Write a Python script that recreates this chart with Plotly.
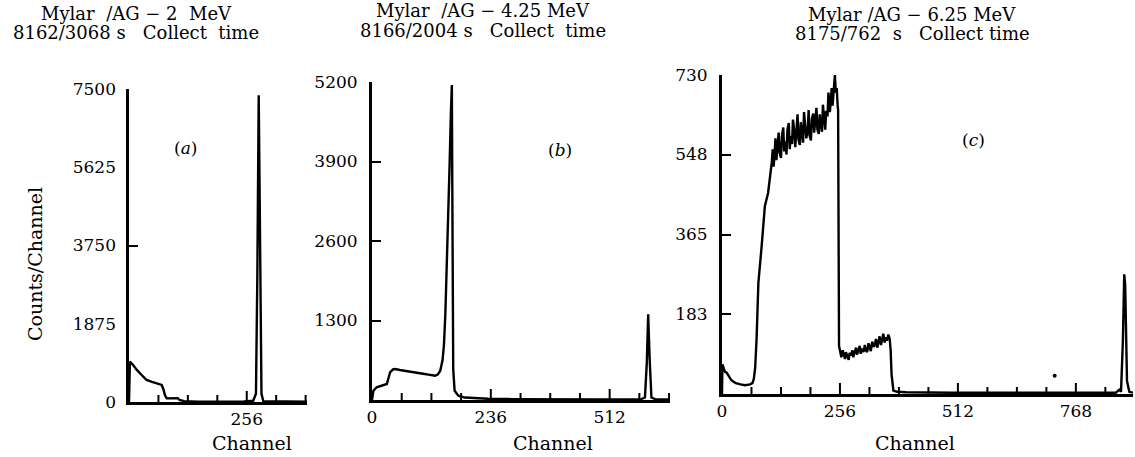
import plotly.graph_objects as go

W, H = 1135, 457

# ---------------- data ----------------
# Panel (a): Mylar/AG - 2 MeV
ch_a = [0, 1, 2, 8, 17, 28, 38, 50, 60, 71, 75, 78, 82, 95, 106, 110, 120, 150, 200, 250,
        270, 276, 279, 281, 282, 284, 286, 288, 292, 330, 387]
cnt_a = [0, 700, 969, 900, 769, 640, 529, 480, 449, 409, 300, 168, 88, 90, 90, 48, 20, 10, 8, 12,
         30, 200, 3000, 6500, 7350, 5000, 1500, 200, 20, 10, 10]

# Panel (b): Mylar/AG - 4.25 MeV
ch_b = [0, 3, 10, 20, 32, 35, 39, 45, 50, 60, 75, 93, 110, 125, 136, 142, 147, 152, 155, 158,
        161, 164, 167, 170, 172, 173, 175, 178, 186, 200, 250, 300, 400, 500, 580, 588, 592,
        595, 598, 602, 610, 642]
cnt_b = [0, 152, 208, 230, 262, 343, 453, 500, 507, 490, 475, 453, 430, 410, 397, 420, 479, 650,
         900, 1400, 2100, 2900, 3800, 4700, 5150, 3500, 500, 150, 70, 40, 20, 15, 10, 10, 15, 40,
         600, 1400, 700, 40, 15, 10]

# Panel (c): Mylar/AG - 6.25 MeV
ch_c = [0, 1, 4, 7, 10, 15, 20, 25, 30, 40, 50, 61, 66, 69, 72, 75, 79, 86, 93, 100, 104, 108,
        110, 112, 114, 116, 118, 121, 123, 125, 128, 130, 133, 135, 137, 140, 142, 145, 147, 149,
        152, 154, 157, 159, 162, 164, 166, 169, 171, 174, 176, 178, 181, 183, 186, 188, 190, 193,
        195, 198, 200, 202, 205, 207, 210, 212, 214, 217, 219, 222, 224, 226, 229, 231, 234, 236,
        238, 240, 242, 244, 245, 247, 249, 251, 252, 254,
        257, 259, 262, 264, 267, 269, 272, 275, 277, 280, 283, 285, 288, 291, 293, 296, 299, 301,
        304, 307, 310, 312, 315, 318, 321, 323, 326, 329, 332, 334, 337, 340, 342, 345, 348, 350,
        353, 356, 358, 361, 364, 366, 368, 370, 372, 380, 400, 500, 600, 700, 800, 855, 862, 866,
        870, 873, 875, 879, 884, 892]
cnt_c = [0, 68, 58, 50, 49, 40, 32, 28, 25, 22, 20, 22, 25, 34, 60, 125, 255, 338, 430, 460, 490, 530,
         560, 520, 548, 585, 535, 570, 598, 552, 540, 590, 610, 555, 578, 548, 605, 620, 560, 590,
         572, 628, 600, 565, 615, 640, 582, 570, 622, 596, 575, 645, 612, 585, 603, 650, 592, 580,
         630, 642, 598, 620, 655, 605, 595, 640, 628, 600, 662, 615, 605, 648, 635, 690, 645, 668,
         700, 660, 690, 715, 730, 690, 700, 660, 650, 110,
         95, 84, 100, 92, 80, 96, 86, 78, 94, 88, 100, 84, 96, 106, 90, 100, 110, 92,
         104, 96, 112, 100, 96, 116, 104, 98, 120, 108, 112, 126, 106, 120, 132, 112, 128, 138,
         118, 130, 122, 136, 126, 100, 45, 20, 8, 5, 4, 3, 3, 4, 3, 3, 10, 5,
         120, 274, 250, 30, 5, 3]
speck_c_ch = [722]
speck_c_cnt = [42]

# tick labels / positions
yt_a = [0, 1875, 3750, 5625, 7500]
yt_b = [1300, 2600, 3900, 5200]
yt_c = [183, 365, 548, 730]
xt_a, xl_a = [256], ["256"]
xt_b, xl_b = [0, 256, 512], ["0", "236", "512"]
xt_c, xl_c = [0, 256, 512, 768], ["0", "256", "512", "768"]
xmarks_a = [64, 128, 192, 256, 320, 384]
xmarks_b = [64, 128, 192, 256, 320, 384, 448, 512, 576, 640]
xmarks_c = [64, 128, 192, 256, 320, 384, 448, 512, 576, 640, 704, 768, 832]

titles = [("Mylar  /AG − 2  MeV", "8162/3068 s   Collect  time"),
          ("Mylar  /AG − 4.25 MeV", "8166/2004 s   Collect  time"),
          ("Mylar /AG − 6.25 MeV", "8175/762  s   Collect time")]
panel_tags = ["(<i>a</i>)", "(<i>b</i>)", "(<i>c</i>)"]

# ---------------- layout helpers ----------------
FONT = "DejaVu Serif, serif"
def px_x(p):
    return p / W
def px_y(p):
    return 1 - p / H

# panel geometry (pixels) and ranges
PX_XA, PX_XB, PX_XC = (129, 307), (372, 670), (722, 1133)
PX_YA, PX_YB, PX_YC = (402, 89), (400, 82), (394, 75)
rx_a, rx_b, rx_c = [0, 387], [0, 642], [0, 892]
ry_a, ry_b, ry_c = [0, 7500], [0, 5200], [0, 730]
TICK_MAJOR_PX, TICK_MINOR_PX = 11, 7

fig = go.Figure()
line = dict(color="black", width=2.4)
fig.add_trace(go.Scatter(x=ch_a, y=cnt_a, mode="lines", line=line, xaxis="x", yaxis="y"))
fig.add_trace(go.Scatter(x=ch_b, y=cnt_b, mode="lines", line=line, xaxis="x2", yaxis="y2"))
fig.add_trace(go.Scatter(x=ch_c, y=cnt_c, mode="lines", line=line, xaxis="x3", yaxis="y3"))
fig.add_trace(go.Scatter(x=speck_c_ch, y=speck_c_cnt, mode="markers",
                         marker=dict(color="black", size=4), xaxis="x3", yaxis="y3"))
# invisible carrier for the label-only y axis of panel (a)
fig.add_trace(go.Scatter(x=[0], y=[0], mode="markers", marker=dict(opacity=0),
                         xaxis="x", yaxis="y4", hoverinfo="skip"))

# small upward channel ticks on each x axis, drawn as short line segments from the baseline
def channel_ticks(marks, majors, yr, ypx, xa, ya):
    per_px = (yr[1] - yr[0]) / (ypx[0] - ypx[1])
    xs, ys = [], []
    for m in marks:
        ln = (TICK_MAJOR_PX if m in majors else TICK_MINOR_PX) * per_px
        xs += [m, m, None]
        ys += [yr[0], yr[0] + ln, None]
    return go.Scatter(x=xs, y=ys, mode="lines", line=dict(color="black", width=2),
                      connectgaps=False, xaxis=xa, yaxis=ya, hoverinfo="skip")
fig.add_trace(channel_ticks(xmarks_a, xt_a, ry_a, PX_YA, "x", "y"))
fig.add_trace(channel_ticks(xmarks_b, xt_b, ry_b, PX_YB, "x2", "y2"))
fig.add_trace(channel_ticks(xmarks_c, xt_c, ry_c, PX_YC, "x3", "y3"))

tickfont = dict(family=FONT, size=17, color="black")
axcommon = dict(showline=True, linecolor="black", linewidth=3, showgrid=False,
                zeroline=False, automargin=False, tickfont=tickfont, tickcolor="black")

def xaxis(dom, rng, tv, tt, anchor):
    return dict(axcommon, domain=dom, range=rng, anchor=anchor, tickmode="array",
                tickvals=tv, ticktext=tt, ticks="")

def yaxis(dom, rng, tv, anchor, showlabels=True, ticklen=9):
    return dict(axcommon, domain=dom, range=rng, anchor=anchor, tickmode="array",
                tickvals=tv, ticktext=[str(v) for v in tv], ticks="inside", ticklen=ticklen,
                tickwidth=2, showticklabels=showlabels, ticklabelstandoff=8)

dom_xa = [px_x(PX_XA[0]), px_x(PX_XA[1])]
dom_xb = [px_x(PX_XB[0]), px_x(PX_XB[1])]
dom_xc = [px_x(PX_XC[0]), px_x(PX_XC[1])]
dom_ya = [px_y(PX_YA[0]), px_y(PX_YA[1])]
dom_yb = [px_y(PX_YB[0]), px_y(PX_YB[1])]
dom_yc = [px_y(PX_YC[0]), px_y(PX_YC[1])]

fig.update_layout(
    width=W, height=H,
    margin=dict(l=0, r=0, t=0, b=0),
    paper_bgcolor="white", plot_bgcolor="white",
    showlegend=False,
    xaxis=xaxis(dom_xa, rx_a, xt_a, xl_a, "y"),
    xaxis2=xaxis(dom_xb, rx_b, xt_b, xl_b, "y2"),
    xaxis3=xaxis(dom_xc, rx_c, xt_c, xl_c, "y3"),
    yaxis=yaxis(dom_ya, ry_a, [3750, 7500], "x", showlabels=False),
    yaxis4=dict(axcommon, domain=dom_ya, range=ry_a, anchor="x", overlaying="y",
                side="left", showline=False, tickmode="array", tickvals=yt_a,
                ticktext=[str(v) for v in yt_a], ticks="", ticklabelstandoff=12),
    yaxis2=yaxis(dom_yb, ry_b, yt_b, "x2"),
    yaxis3=yaxis(dom_yc, ry_c, yt_c, "x3"),
)

ann = []
def add_text(text, cx, cy, size, angle=0):
    ann.append(dict(text=text, x=px_x(cx), y=px_y(cy), xref="paper", yref="paper",
                    xanchor="center", yanchor="middle", textangle=angle,
                    showarrow=False, font=dict(family=FONT, size=size, color="black")))

title_pos = [(136, 13, 32), (483, 11, 30), (912, 15, 34)]
for (l1, l2), (cx, y1, y2) in zip(titles, title_pos):
    add_text(l1, cx, y1, 18)
    add_text(l2, cx, y2, 18)
for tag, (cx, cy) in zip(panel_tags, [(185, 148), (560, 150), (973, 140)]):
    add_text(tag, cx, cy, 17)
for cx in [252, 553, 915]:
    add_text("Channel", cx, 443, 19)
add_text("Counts/Channel", 35, 264, 19, angle=-90)
fig.update_layout(annotations=ann)

fig.write_html("out.html", config={"displayModeBar": False})
